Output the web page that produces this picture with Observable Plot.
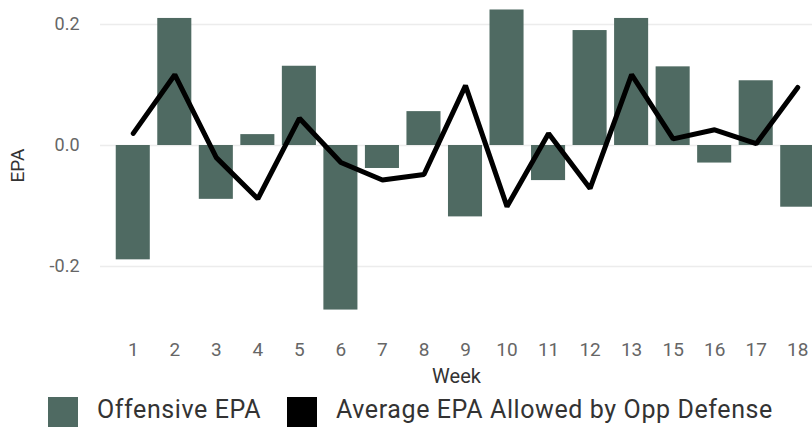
<!DOCTYPE html>
<html>
<head>
<meta charset="utf-8">
<script src="https://cdn.jsdelivr.net/npm/d3@7"></script>
<script src="https://cdn.jsdelivr.net/npm/@observablehq/plot@0.6"></script>
<style>
  html, body { margin: 0; padding: 0; background: #fff; overflow: hidden; }
  #chart { width: 812px; height: 429px; position: relative; font-family: Roboto, "DejaVu Sans", sans-serif; }
  #legend { position: absolute; left: 0; top: 397px; height: 30px; width: 812px; }
  .sw { position: absolute; top: 0; width: 30px; height: 30px; }
  .lt { position: absolute; top: -3px; line-height: 32px; font-size: 25px; letter-spacing: 0.6px; color: #333; white-space: nowrap; }
</style>
</head>
<body>
<div id="chart"></div>
<script>
const weeks = ["1","2","3","4","5","6","7","8","9","10","11","12","13","15","16","17","18"];
const offensiveEPA = [-0.189, 0.210, -0.089, 0.018, 0.131, -0.272, -0.038, 0.056, -0.118, 0.224, -0.058, 0.190, 0.210, 0.130, -0.029, 0.107, -0.102];
const avgAllowedEPA = [0.020, 0.117, -0.020, -0.088, 0.045, -0.028, -0.057, -0.048, 0.099, -0.101, 0.020, -0.071, 0.117, 0.011, 0.026, 0.003, 0.096];
const yTicks = [-0.2, 0.0, 0.2];
const seriesNames = ["Offensive EPA", "Average EPA Allowed by Opp Defense"];
const seriesColors = ["#4f6a62", "#000000"];

const rows = weeks.map((w, i) => ({week: w, off: offensiveEPA[i], avg: avgAllowedEPA[i]}));

const plot = Plot.plot({
  width: 812,
  height: 390,
  marginLeft: 100,
  marginRight: 0,
  marginTop: 0,
  marginBottom: 60,
  style: {fontFamily: "Roboto, 'DejaVu Sans', sans-serif", background: "#fff", overflow: "hidden"},
  x: {type: "band", domain: weeks, range: [112, 818], paddingInner: 0.18, paddingOuter: 0.09, round: false},
  y: {domain: [-0.2, 0.2], range: [266, 24]},
  marks: [
    Plot.gridY(yTicks, {stroke: "#ececec", strokeOpacity: 1, strokeWidth: 1.5}),
    Plot.barY(rows, {x: "week", y: "off", fill: seriesColors[0]}),
    Plot.line(rows, {x: "week", y: "avg", stroke: seriesColors[1], strokeWidth: 5, strokeLinecap: "round", strokeLinejoin: "miter"}),
    Plot.axisY({ticks: yTicks, tickFormat: d => d.toFixed(1), tickSize: 0, tickPadding: 21, fontSize: 18, color: "#666",
      label: null}),
    Plot.axisY({ticks: [], tickSize: 0, fontSize: 19, color: "#333",
      label: "EPA", labelAnchor: "center", labelArrow: "none", labelOffset: 90}),
    Plot.axisX({tickSize: 0, tickPadding: 12, fontSize: 19, color: "#666", letterSpacing: 0.5, label: null}),
    Plot.axisX({ticks: [], tickSize: 0, fontSize: 20, color: "#333",
      label: "Week", labelAnchor: "center", labelArrow: "none", labelOffset: 52})
  ]
});
document.getElementById("chart").appendChild(plot);

const legend = document.createElement("div");
legend.id = "legend";
const swX = [48, 287];
const txX = [97, 336];
seriesNames.forEach((name, i) => {
  const sw = document.createElement("div");
  sw.className = "sw";
  sw.style.left = swX[i] + "px";
  sw.style.background = seriesColors[i];
  legend.appendChild(sw);
  const t = document.createElement("div");
  t.className = "lt";
  t.style.left = txX[i] + "px";
  t.textContent = name;
  legend.appendChild(t);
});
document.getElementById("chart").appendChild(legend);
</script>
</body>
</html>
